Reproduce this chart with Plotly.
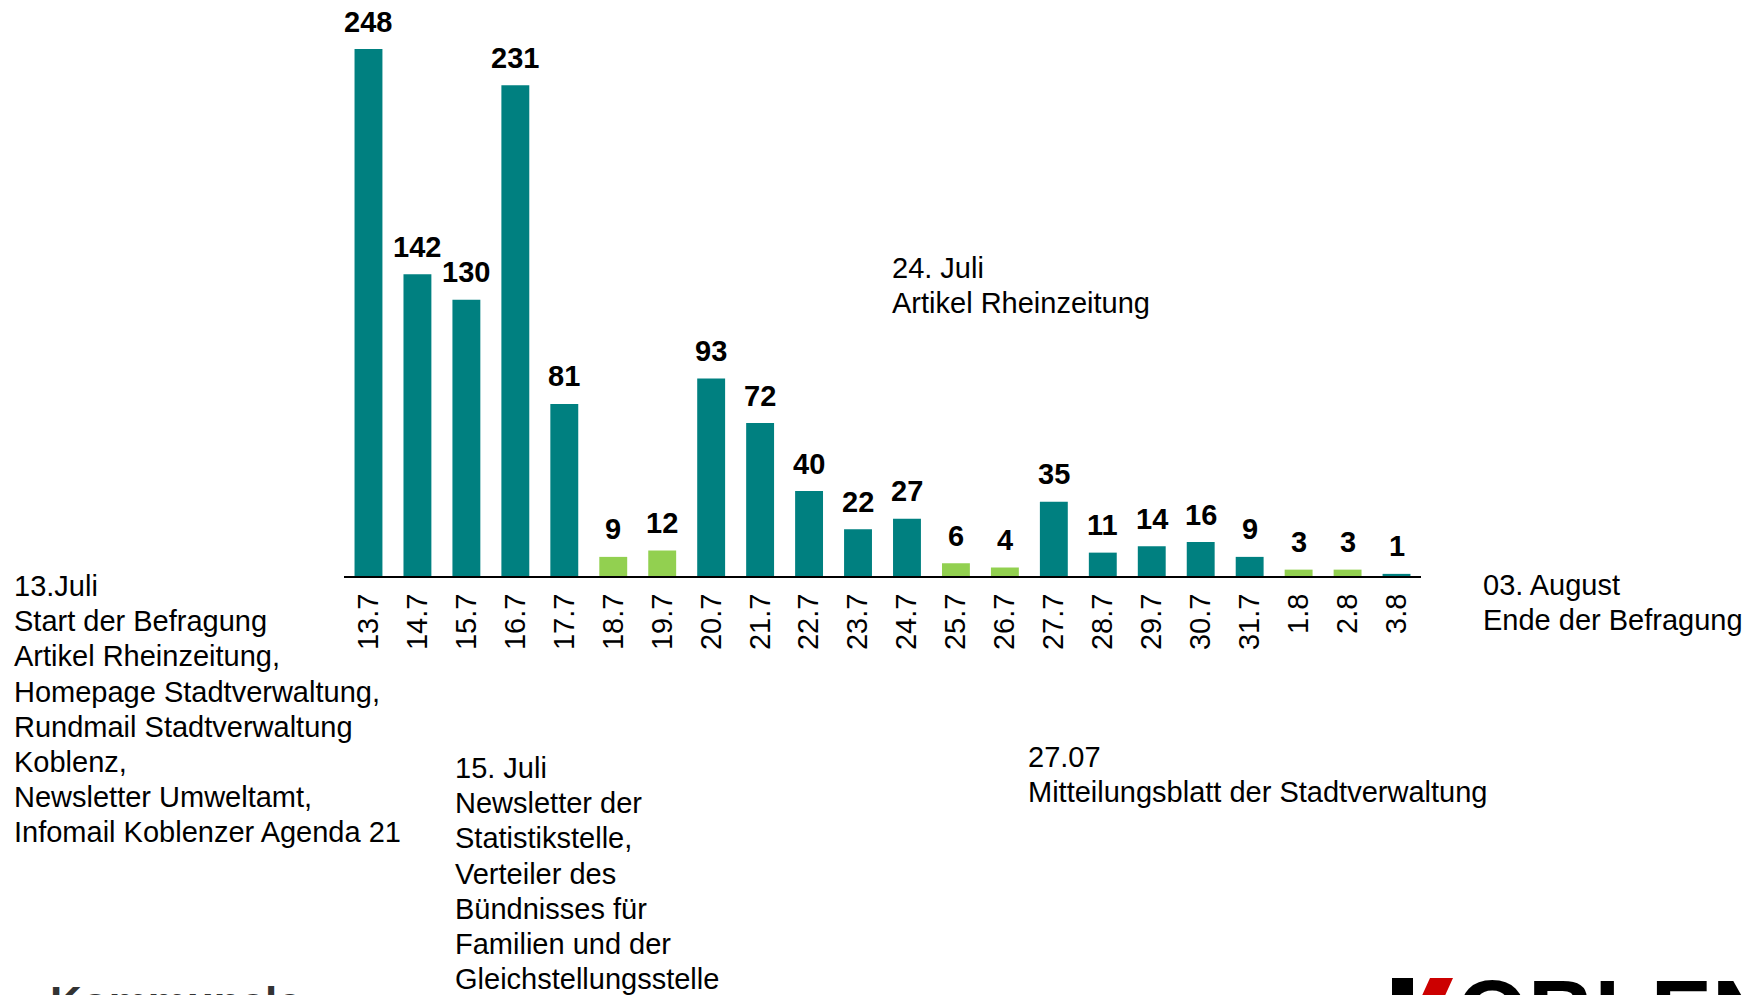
import plotly.graph_objects as go

# ---- data ----
dates = ["13.7", "14.7", "15.7", "16.7", "17.7", "18.7", "19.7", "20.7", "21.7", "22.7", "23.7",
         "24.7", "25.7", "26.7", "27.7", "28.7", "29.7", "30.7", "31.7", "1.8", "2.8", "3.8"]
counts = [248, 142, 130, 231, 81, 9, 12, 93, 72, 40, 22, 27, 6, 4, 35, 11, 14, 16, 9, 3, 3, 1]
weekend = [False, False, False, False, False, True, True, False, False, False, False,
           False, True, True, False, False, False, False, False, True, True, False]

note_13 = ["13.Juli", "Start der Befragung", "Artikel Rheinzeitung,", "Homepage Stadtverwaltung,",
           "Rundmail Stadtverwaltung", "Koblenz,", "Newsletter Umweltamt,", "Infomail Koblenzer Agenda 21"]
note_15 = ["15. Juli", "Newsletter der", "Statistikstelle,", "Verteiler des", "Bündnisses für",
           "Familien und der", "Gleichstellungsstelle"]
note_24 = ["24. Juli", "Artikel Rheinzeitung"]
note_27 = ["27.07", "Mitteilungsblatt der Stadtverwaltung"]
note_03 = ["03. August", "Ende der Befragung"]

TEAL = "#008080"
GREEN = "#92D050"
LOGO_RED = "#CC0000"
FONT = "Liberation Sans, Arial, sans-serif"

W, H = 1755, 995
OFF = 8  # page body margin
ML, MT = 344 - OFF, 0
PLOT_BOTTOM = 576 - OFF
PLOT_RIGHT = 1421 - OFF
MR = W - PLOT_RIGHT
MB = H - PLOT_BOTTOM
PX_PER_UNIT = 2.125
plot_h = H - MT - MB

fig = go.Figure()
fig.add_trace(go.Bar(
    x=dates, y=counts,
    marker=dict(color=[GREEN if w else TEAL for w in weekend], line=dict(width=0)),
    hoverinfo="x+y",
))

for i, c in enumerate(counts):
    fig.add_annotation(x=i, y=c, xref="x", yref="y", text=f"<b>{c}</b>", showarrow=False,
                       yanchor="middle", yshift=27.5,
                       font=dict(family=FONT, size=29, color="black"))


def px_to_paper_x(px):
    return (px - OFF - ML) / (W - ML - MR)


def px_to_paper_y(py):
    return (H - MB - (py - OFF)) / plot_h


def add_block(lines, left_px, first_center_px, spacing=35.2, size=29):
    for i, t in enumerate(lines):
        fig.add_annotation(x=px_to_paper_x(left_px), y=px_to_paper_y(first_center_px + i * spacing),
                           xref="paper", yref="paper", text=t, showarrow=False,
                           xanchor="left", yanchor="middle", align="left",
                           font=dict(family=FONT, size=size, color="black"))


add_block(note_13, 12, 586)
add_block(note_15, 453, 768)
add_block(note_24, 890, 268)
add_block(note_27, 1026, 757)
add_block(note_03, 1481, 585)

# partially visible footer: department name and city logo (cut by the page edge)
fig.add_annotation(x=px_to_paper_x(48), y=px_to_paper_y(976), xref="paper", yref="paper",
                   text="<b>Kommunale</b>", showarrow=False, xanchor="left", yanchor="top",
                   font=dict(family=FONT, size=44, color="#333333"))
fig.add_annotation(x=px_to_paper_x(1388), y=px_to_paper_y(960), xref="paper", yref="paper",
                   text="<b><span style='color:rgba(0,0,0,0)'>K</span>OBLENZ</b>", showarrow=False,
                   xanchor="left", yanchor="top",
                   font=dict(family=FONT, size=92, color="black"))
# logo "K": black stem and red arm
fig.add_shape(type="rect", xref="paper", yref="paper",
              x0=px_to_paper_x(1392), x1=px_to_paper_x(1413),
              y0=px_to_paper_y(978), y1=px_to_paper_y(1000),
              fillcolor="black", line=dict(width=0))
red_pts = [(1430, 978), (1453, 978), (1443, 1000), (1420, 1000)]
path = "M " + " L ".join(f"{px_to_paper_x(x)},{px_to_paper_y(y)}" for x, y in red_pts) + " Z"
fig.add_shape(type="path", xref="paper", yref="paper", path=path,
              fillcolor=LOGO_RED, line=dict(width=0))

fig.update_layout(
    width=W, height=H,
    margin=dict(l=ML, r=MR, t=MT, b=MB, autoexpand=False),
    plot_bgcolor="white", paper_bgcolor="white",
    bargap=0.43, showlegend=False,
    xaxis=dict(type="category", range=[-0.5, len(dates) - 0.5], showline=True,
               linecolor="black", linewidth=2,
               ticks="", tickangle=-90, ticklabelstandoff=4,
               tickfont=dict(family=FONT, size=29, color="black"), showgrid=False, zeroline=False),
    yaxis=dict(range=[0, plot_h / PX_PER_UNIT], visible=False, showgrid=False, zeroline=False),
)

fig.write_html("out.html")
